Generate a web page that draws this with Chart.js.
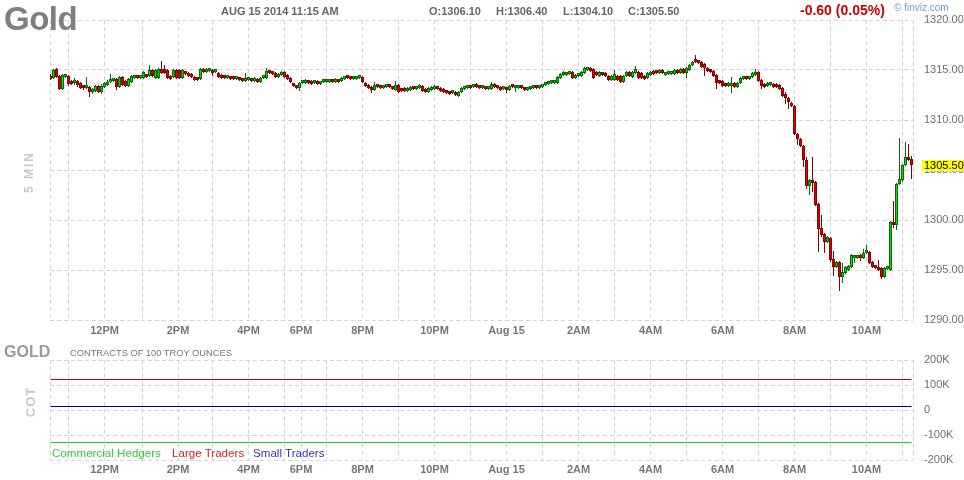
<!DOCTYPE html>
<html><head><meta charset="utf-8">
<script src="https://cdn.jsdelivr.net/npm/chart.js@4.4.1/dist/chart.umd.min.js"></script>
<style>
html,body{margin:0;padding:0;background:#fff;}
#wrap{position:relative;width:964px;height:480px;overflow:hidden;font-family:"Liberation Sans",Arial,sans-serif;}
.t{position:absolute;white-space:nowrap;line-height:1;}
.rot{transform:translate(-50%,-50%) rotate(-90deg);}
canvas{position:absolute;left:0;}
</style></head><body>
<div id="wrap">
<canvas id="price" width="964" height="340" style="top:0;width:964px;height:340px"></canvas>
<canvas id="cot" width="964" height="140" style="top:340px;width:964px;height:140px"></canvas>
<div class="t" style="left:4px;top:2px;font-size:33px;font-weight:bold;color:#7f7f7f;letter-spacing:-0.5px">Gold</div>
<div class="t" style="left:221px;top:6px;font-size:11px;font-weight:bold;color:#666">AUG 15 2014 11:15 AM</div>
<div class="t" id="oT" style="left:429px;top:6px;font-size:11px;font-weight:bold;color:#666"></div>
<div class="t" id="hT" style="left:496px;top:6px;font-size:11px;font-weight:bold;color:#666"></div>
<div class="t" id="lT" style="left:563px;top:6px;font-size:11px;font-weight:bold;color:#666"></div>
<div class="t" id="cT" style="left:628px;top:6px;font-size:11px;font-weight:bold;color:#666"></div>
<div class="t" style="left:800px;top:3px;font-size:14px;font-weight:bold;color:#cc0000">-0.60 (0.05%)</div>
<div class="t" style="left:894px;top:3px;font-size:10px;color:#6a9fd8">© finviz.com</div>
<div class="t rot" style="left:29px;top:172px;font-size:12px;font-weight:bold;color:#c8c8c8;letter-spacing:2px">5 MIN</div>
<div class="t" style="left:4px;top:344px;font-size:16px;font-weight:bold;color:#9a9a9a">GOLD</div>
<div class="t" style="left:70px;top:348.5px;font-size:9.3px;color:#777">CONTRACTS OF 100 TROY OUNCES</div>
<div class="t rot" style="left:30px;top:402px;font-size:13px;font-weight:bold;color:#c8c8c8;letter-spacing:1px">COT</div>
<div class="t" id="lg0" style="left:52px;top:446.5px;font-size:11.6px"></div>
<div class="t" id="lg1" style="left:172px;top:446.5px;font-size:11.6px"></div>
<div class="t" id="lg2" style="left:253px;top:446.5px;font-size:11.6px"></div>
</div>
<script>
// ---- 5-minute gold futures bars (index 0 = first bar on chart) ----
const opens = [
1314.4,1314.2,1315.1,1314.4,1313.1,1314.3,1314.4,1313.9,1313.7,1313.9,1313.7,1313.3,
1313.2,1313.3,1312.8,1312.9,1313.4,1312.8,1313.3,1313.5,1313.8,1313.9,1314.1,1313.3,
1314.3,1313.9,1313.4,1313.8,1314.2,1314.4,1314.2,1314.2,1314.5,1314.4,1315.0,1314.2,
1314.2,1315.1,1315.1,1315.0,1314.4,1314.3,1315.0,1315.0,1314.2,1314.8,1314.7,1314.6,
1314.3,1314.2,1314.1,1315.1,1314.8,1314.9,1315.0,1314.8,1314.7,1314.5,1314.4,1314.2,
1314.3,1314.2,1314.1,1314.2,1314.1,1313.9,1314.0,1314.1,1313.9,1314.1,1313.8,1314.2,
1314.2,1314.9,1314.8,1314.7,1314.3,1314.5,1314.8,1314.5,1314.2,1313.6,1313.4,1313.2,
1313.7,1313.7,1313.9,1313.9,1313.7,1313.9,1313.6,1313.8,1313.8,1313.8,1314.0,1313.8,
1314.0,1313.9,1314.1,1314.4,1314.3,1314.1,1314.1,1314.2,1314.3,1313.7,1313.5,1313.3,
1313.0,1313.5,1313.4,1313.2,1313.3,1313.5,1313.3,1313.0,1313.5,1313.1,1313.2,1312.9,
1313.0,1313.3,1313.1,1313.2,1313.4,1313.1,1312.8,1313.0,1313.1,1313.3,1313.2,1313.1,
1312.9,1312.8,1312.7,1312.8,1312.4,1312.8,1313.1,1313.2,1313.4,1313.3,1313.6,1313.4,
1313.2,1313.3,1313.1,1313.1,1313.6,1313.4,1313.3,1313.1,1313.2,1313.0,1313.4,1313.2,
1313.2,1313.3,1313.2,1313.0,1313.1,1313.2,1313.4,1313.2,1313.3,1313.5,1313.6,1313.7,
1313.7,1313.7,1314.2,1314.5,1314.5,1314.6,1314.8,1314.2,1314.4,1314.4,1314.7,1315.0,
1315.2,1315.1,1314.8,1314.4,1314.7,1314.7,1314.4,1314.0,1314.0,1314.4,1314.4,1313.8,
1314.4,1314.8,1314.3,1314.7,1314.8,1314.7,1314.4,1314.2,1314.5,1314.8,1314.9,1314.7,
1315.0,1314.5,1314.6,1314.6,1314.6,1315.0,1314.7,1315.1,1314.7,1315.0,1315.5,1316.1,
1315.9,1315.8,1315.6,1315.2,1315.0,1314.9,1314.5,1313.9,1313.9,1313.6,1313.4,1313.4,
1313.7,1313.3,1313.7,1314.1,1314.3,1314.1,1314.3,1314.5,1314.8,1314.0,1313.6,1313.4,
1313.5,1313.6,1313.6,1313.5,1313.2,1312.6,1312.2,1311.7,1311.4,1308.6,1308.1,1307.4,
1306.0,1303.4,1304.0,1303.8,1301.6,1299.2,1298.6,1297.8,1298.2,1296.1,1295.3,1295.8,
1294.3,1294.7,1295.0,1295.3,1296.2,1296.2,1296.4,1296.2,1296.7,1296.8,1295.8,1295.4,
1295.3,1295.2,1294.3,1295.1,1295.0,1299.8,1299.5,1303.6,1304.0,1305.5,1306.3,1306.1];
const highs = [
1314.6,1315.1,1315.2,1314.5,1314.6,1314.5,1314.5,1314.0,1314.2,1314.0,1313.8,1313.4,
1314.3,1313.4,1313.2,1313.5,1313.5,1313.6,1313.8,1314.0,1314.6,1314.2,1314.2,1314.4,
1314.4,1314.0,1314.2,1314.5,1314.5,1314.5,1314.5,1314.9,1314.6,1315.5,1315.1,1315.1,
1315.2,1315.9,1315.5,1315.1,1314.5,1315.1,1315.1,1315.1,1315.1,1314.9,1314.8,1314.7,
1314.4,1314.3,1315.2,1315.2,1315.2,1315.1,1315.1,1315.0,1314.8,1314.6,1314.5,1314.5,
1314.4,1314.3,1314.3,1314.3,1314.2,1314.7,1314.3,1314.2,1314.3,1314.2,1314.3,1314.5,
1315.2,1315.0,1314.9,1314.8,1314.7,1314.9,1314.9,1314.6,1314.3,1313.7,1313.5,1313.8,
1313.9,1314.1,1314.0,1314.0,1314.0,1314.0,1313.9,1314.0,1314.0,1314.1,1314.1,1314.2,
1314.1,1314.3,1314.3,1314.5,1314.4,1314.4,1314.3,1314.4,1314.4,1313.8,1313.6,1313.4,
1313.8,1313.6,1313.5,1313.5,1313.6,1313.6,1313.4,1313.9,1313.6,1313.2,1313.3,1313.3,
1313.4,1313.4,1313.4,1313.6,1313.5,1313.2,1313.3,1313.4,1313.5,1313.4,1313.3,1313.2,
1313.0,1312.9,1312.9,1312.9,1312.9,1313.3,1313.4,1313.5,1313.5,1313.6,1313.7,1313.5,
1313.4,1313.4,1313.4,1313.8,1313.7,1313.5,1313.4,1313.3,1313.3,1313.5,1313.5,1313.4,
1313.5,1313.4,1313.3,1313.2,1313.4,1313.4,1313.5,1313.5,1313.6,1313.8,1313.9,1313.9,
1313.9,1314.4,1314.7,1314.9,1314.8,1314.9,1314.9,1314.6,1314.7,1314.9,1315.3,1315.3,
1315.3,1315.2,1314.9,1314.9,1314.8,1314.8,1314.5,1314.5,1315.0,1314.5,1314.5,1314.5,
1314.9,1314.9,1314.9,1315.4,1314.9,1314.8,1314.5,1314.8,1314.9,1315.0,1315.0,1315.1,
1315.1,1314.8,1314.8,1314.8,1315.1,1315.1,1315.2,1315.2,1315.3,1315.6,1315.9,1316.5,
1316.0,1315.9,1315.7,1315.3,1315.1,1315.0,1314.6,1314.0,1314.0,1313.7,1313.8,1314.3,
1313.8,1313.8,1314.3,1314.4,1314.4,1314.4,1314.8,1315.1,1314.9,1314.1,1313.7,1313.8,
1313.7,1313.7,1313.7,1313.6,1313.3,1312.8,1312.3,1311.8,1311.5,1308.7,1308.2,1307.5,
1306.3,1304.1,1306.3,1303.9,1301.7,1300.5,1298.7,1298.4,1298.3,1296.9,1295.9,1295.9,
1295.7,1295.4,1295.5,1296.6,1296.5,1296.5,1296.6,1297.1,1297.5,1296.9,1295.9,1295.5,
1296.0,1295.3,1295.3,1295.3,1299.9,1301.9,1303.7,1308.2,1305.6,1307.8,1307.6,1306.4];
const lows = [
1314.0,1314.1,1314.2,1313.0,1313.0,1314.2,1313.4,1313.5,1313.5,1313.3,1313.1,1313.0,
1313.1,1312.3,1312.6,1312.8,1312.7,1312.6,1313.2,1313.4,1313.7,1313.8,1313.0,1313.2,
1313.4,1313.3,1313.3,1313.7,1314.1,1314.1,1314.1,1314.1,1314.2,1314.3,1314.3,1314.1,
1314.1,1314.6,1314.6,1314.1,1314.0,1314.2,1314.1,1314.1,1314.1,1314.5,1314.3,1314.2,
1313.9,1313.9,1314.0,1314.7,1314.7,1314.8,1314.4,1314.7,1314.2,1314.1,1314.1,1314.1,
1314.0,1314.0,1314.0,1313.9,1313.8,1313.8,1313.9,1313.8,1313.8,1313.7,1313.7,1314.1,
1314.1,1314.6,1314.5,1314.2,1314.2,1314.4,1314.2,1314.0,1313.7,1313.3,1313.1,1312.9,
1313.6,1313.6,1313.6,1313.5,1313.6,1313.5,1313.5,1313.7,1313.7,1313.7,1313.7,1313.7,
1313.7,1313.8,1314.0,1314.1,1314.0,1314.0,1314.0,1314.1,1313.7,1313.3,1313.1,1312.7,
1312.9,1313.2,1313.1,1313.1,1313.2,1313.2,1313.0,1312.9,1312.7,1312.8,1312.8,1312.8,
1312.9,1313.0,1313.0,1313.1,1312.8,1312.7,1312.7,1312.9,1313.0,1313.0,1312.8,1312.7,
1312.6,1312.5,1312.6,1312.4,1312.3,1312.7,1313.0,1313.1,1313.1,1313.2,1313.2,1313.1,
1313.1,1313.0,1313.0,1313.0,1313.2,1313.1,1312.9,1313.0,1312.7,1312.9,1313.2,1312.8,
1313.1,1313.1,1312.9,1312.9,1313.0,1313.1,1313.1,1313.1,1313.2,1313.4,1313.5,1313.6,
1313.6,1313.6,1314.1,1314.4,1314.4,1314.5,1314.1,1314.1,1314.3,1314.3,1314.6,1314.9,
1314.8,1314.1,1314.4,1314.3,1314.4,1314.3,1313.9,1313.9,1313.9,1313.9,1313.7,1313.7,
1314.3,1314.3,1314.2,1314.6,1314.1,1314.1,1314.0,1314.1,1314.4,1314.5,1314.6,1314.6,
1314.6,1314.4,1314.5,1314.5,1314.5,1314.6,1314.6,1314.6,1314.2,1314.9,1315.4,1315.7,
1315.6,1315.2,1314.4,1314.8,1314.7,1314.3,1313.1,1313.6,1313.3,1313.3,1313.3,1312.7,
1313.2,1313.2,1313.6,1314.0,1314.0,1314.0,1314.2,1314.4,1313.8,1313.1,1313.2,1313.3,
1313.4,1313.2,1313.2,1313.0,1312.3,1311.6,1311.1,1311.3,1308.5,1307.5,1307.3,1305.3,
1303.1,1302.5,1302.8,1301.4,1296.8,1298.3,1296.7,1297.7,1295.8,1294.4,1295.2,1292.9,
1293.7,1294.6,1294.9,1295.2,1295.7,1296.1,1295.9,1296.1,1296.6,1295.6,1295.2,1295.1,
1294.9,1294.1,1294.2,1295.0,1294.9,1299.2,1299.0,1303.5,1303.8,1305.4,1305.9,1304.1];
const closes = [
1314.1,1315.0,1314.3,1313.1,1314.5,1314.4,1313.6,1313.6,1313.9,1313.5,1313.2,1313.2,
1313.3,1312.8,1313.1,1313.4,1312.8,1313.4,1313.7,1313.8,1314.1,1314.1,1313.3,1314.3,
1313.5,1313.4,1314.1,1314.4,1314.4,1314.2,1314.4,1314.8,1314.3,1315.0,1314.4,1315.0,
1315.1,1314.7,1314.7,1314.2,1314.1,1315.0,1314.2,1314.2,1315.0,1314.6,1314.4,1314.3,
1314.0,1314.0,1315.1,1314.8,1315.1,1315.0,1314.7,1314.9,1314.3,1314.2,1314.2,1314.4,
1314.1,1314.1,1314.2,1314.0,1313.9,1314.2,1314.2,1313.9,1314.2,1313.8,1314.2,1314.4,
1314.9,1314.7,1314.6,1314.3,1314.6,1314.8,1314.3,1314.1,1313.8,1313.4,1313.2,1313.7,
1313.8,1314.0,1313.7,1313.6,1313.9,1313.6,1313.8,1313.9,1313.9,1314.0,1313.8,1314.1,
1313.8,1314.2,1314.2,1314.2,1314.1,1314.3,1314.2,1314.3,1313.8,1313.4,1313.2,1313.0,
1313.5,1313.3,1313.2,1313.4,1313.5,1313.3,1313.1,1313.5,1312.8,1312.9,1312.9,1313.2,
1313.3,1313.1,1313.3,1313.5,1312.9,1312.8,1313.2,1313.3,1313.4,1313.1,1312.9,1312.8,
1312.7,1312.6,1312.8,1312.5,1312.8,1313.2,1313.3,1313.4,1313.2,1313.5,1313.3,1313.2,
1313.3,1313.1,1313.3,1313.6,1313.3,1313.2,1313.0,1313.2,1313.0,1313.4,1313.3,1313.3,
1313.4,1313.2,1313.0,1313.1,1313.3,1313.3,1313.2,1313.4,1313.5,1313.7,1313.8,1313.8,
1313.8,1314.3,1314.6,1314.8,1314.7,1314.8,1314.2,1314.5,1314.6,1314.8,1315.2,1315.2,
1314.9,1314.2,1314.5,1314.8,1314.5,1314.4,1314.0,1314.4,1314.6,1314.0,1313.8,1314.4,
1314.8,1314.4,1314.8,1315.1,1314.2,1314.2,1314.1,1314.7,1314.8,1314.6,1314.7,1315.0,
1314.7,1314.7,1314.7,1314.7,1315.0,1314.7,1315.1,1314.7,1315.2,1315.5,1315.8,1315.8,
1315.7,1315.3,1315.2,1314.9,1314.8,1314.4,1313.7,1313.7,1313.4,1313.4,1313.7,1313.7,
1313.3,1313.7,1314.2,1314.3,1314.1,1314.3,1314.7,1314.7,1313.9,1313.4,1313.3,1313.7,
1313.6,1313.3,1313.3,1313.1,1312.4,1312.2,1311.8,1311.4,1308.6,1308.1,1307.4,1306.0,
1303.4,1304.0,1303.7,1301.5,1299.1,1298.5,1297.8,1298.3,1296.0,1295.3,1295.8,1294.3,
1294.8,1295.3,1295.4,1296.5,1296.4,1296.4,1296.2,1296.7,1296.8,1295.7,1295.3,1295.2,
1295.0,1294.3,1295.2,1295.2,1299.8,1299.5,1303.6,1304.1,1305.5,1306.3,1306.0,1305.5];

// hour boundaries (bar index) and their axis labels
const hourTicks  = [6,18,30.5,42.5,54,66,78,83.5,92,104,116,128,140,152,164,176,188,200,212,224,236,248,260,272,284];
const hourLabels = ['','12PM','','2PM','','4PM','','6PM','','8PM','','10PM','','Aug 15','','2AM','','4AM','','6AM','','8AM','','10AM',''];
const priceTicks = [1290,1295,1300,1305,1310,1315,1320];

// COT (net contracts)
const cotNames  = ['Commercial Hedgers','Large Traders','Small Traders'];
const cotValues = [-130000, 122000, 14000];
const cotTicks  = [-200000,-100000,0,100000,200000];
const cotTickLabels = ['-200K','-100K','0','100K','200K'];

const FONT = '"Liberation Sans", Arial, sans-serif';
Chart.defaults.font.family = FONT;
const last = closes.length - 1;
document.getElementById('oT').textContent = 'O:' + opens[last].toFixed(2);
document.getElementById('hT').textContent = 'H:' + highs[last].toFixed(2);
document.getElementById('lT').textContent = 'L:' + lows[last].toFixed(2);
document.getElementById('cT').textContent = 'C:' + closes[last].toFixed(2);
const cotColors = ['#1ec81e','#c80000','#0000b4'];
const legendColors = ['#33cc33','#dd2222','#3535cc'];
cotNames.forEach((n,k)=>{const e=document.getElementById('lg'+k); e.textContent=n; e.style.color=legendColors[k];});

const xMin = -0.17, xMax = closes.length - 0.5;
const isUp = i => closes[i] >= opens[i];
const grid = {color:'#d4d4d4', lineWidth:1, drawTicks:false, offset:false};
const border = {display:false, dash:[4,3]};

function xScale(pad){
  return {type:'linear', min:xMin, max:xMax, offset:false, grid:grid, border:border,
    afterBuildTicks: s => { s.ticks = [xMin, ...hourTicks, xMax].map(v=>({value:v})); },
    afterFit: s => { s.height = 20; },
    ticks:{autoSkip:false, maxRotation:0, minRotation:0, padding:pad, color:'#777',
      font:{family:FONT, size:11, weight:'bold'},
      callback: v => { const k = hourTicks.indexOf(v); return k < 0 ? '' : hourLabels[k]; }}
  };
}

const lastPricePlugin = {
  id:'lastPrice',
  afterDraw(chart){
    const c = closes[last];
    const y = chart.scales.y.getPixelForValue(c);
    const ctx = chart.ctx, x0 = chart.chartArea.right + 9;
    ctx.save();
    ctx.fillStyle = '#ffff00';
    ctx.fillRect(x0, Math.round(y) - 5, chart.width - x0, 11);
    ctx.fillStyle = '#000';
    ctx.font = '11px ' + FONT;
    ctx.textBaseline = 'middle';
    ctx.fillText(c.toFixed(2), x0 + 2, Math.round(y) + 0.8);
    ctx.restore();
  }
};

new Chart(document.getElementById('price'), {
  type:'bar',
  data:{datasets:[
    {label:'wick', data: closes.map((c,i)=>({x:i, y:[lows[i], highs[i]]})), grouped:false,
     barThickness:1, borderWidth:0, inflateAmount:0, order:2,
     backgroundColor: ctx => isUp(ctx.dataIndex) ? '#006e00' : '#8c0000'},
    {label:'body', data: closes.map((c,i)=>({x:i, y:[opens[i], c]})), grouped:false,
     barThickness:3, minBarLength:3, borderWidth:1, borderSkipped:false, inflateAmount:0, order:1,
     backgroundColor: ctx => isUp(ctx.dataIndex) ? '#00e000' : '#e00000',
     borderColor: ctx => isUp(ctx.dataIndex) ? '#006e00' : '#8c0000'}
  ]},
  options:{
    responsive:false, animation:false, devicePixelRatio:1, events:[],
    layout:{padding:{left:50, top:20, right:0, bottom:0}},
    plugins:{legend:{display:false}, tooltip:{enabled:false}},
    scales:{
      x: xScale(4),
      y: {type:'linear', position:'right', min:1290, max:1320, grid:grid, border:border,
          afterBuildTicks: s => { s.ticks = priceTicks.map(v=>({value:v})); },
          afterFit: s => { s.width = 51; },
          ticks:{padding:11, color:'#6e6e6e', font:{family:FONT, size:11},
                 callback: v => Number(v).toFixed(2)}}
    }
  },
  plugins:[lastPricePlugin]
});

new Chart(document.getElementById('cot'), {
  type:'line',
  data:{datasets: cotNames.map((n,k)=>({
    label:n, data:[{x:0, y:cotValues[k]}, {x:last, y:cotValues[k]}],
    borderColor:cotColors[k], borderWidth:1, pointRadius:0, tension:0, fill:false
  }))},
  options:{
    responsive:false, animation:false, devicePixelRatio:1, events:[],
    layout:{padding:{left:50, top:20, right:0, bottom:0}},
    plugins:{legend:{display:false}, tooltip:{enabled:false}},
    scales:{
      x: xScale(3),
      y: {type:'linear', position:'right', min:-200000, max:200000, grid:grid, border:border,
          afterBuildTicks: s => { s.ticks = cotTicks.map(v=>({value:v})); },
          afterFit: s => { s.width = 51; },
          ticks:{padding:11, color:'#6e6e6e', font:{family:FONT, size:11},
                 callback: v => { const k = cotTicks.indexOf(v); return k < 0 ? '' : cotTickLabels[k]; }}}
    }
  }
});
</script>
</body></html>
